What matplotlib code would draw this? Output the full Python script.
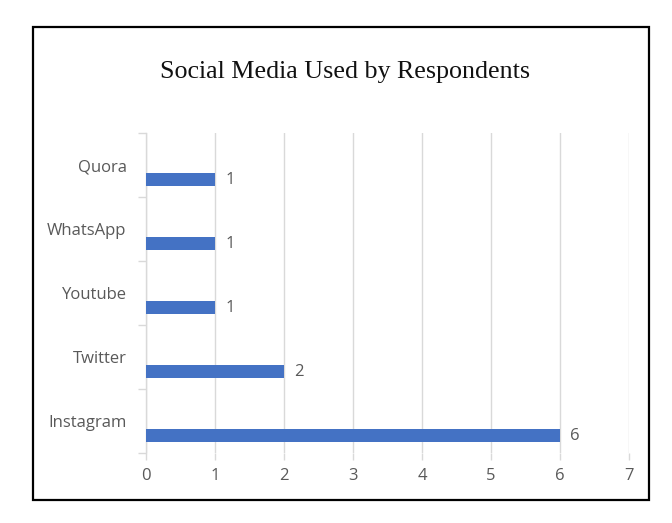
import matplotlib
matplotlib.use("Agg")
import matplotlib.pyplot as plt
from matplotlib.patches import Rectangle

categories = ["Instagram", "Twitter", "Youtube", "WhatsApp", "Quora"]
values = [6, 2, 1, 1, 1]
x_ticks = [0, 1, 2, 3, 4, 5, 6, 7]
title = "Social Media Used by Respondents"

W, H = 672, 523
fig = plt.figure(figsize=(W / 100, H / 100), dpi=100)
fig.patch.set_facecolor("white")

# outer border
fig.add_artist(Rectangle((33 / W, 1 - 500 / H), (649 - 33) / W, (500 - 27) / H,
                         transform=fig.transFigure, fill=False, edgecolor="black", lw=1.6))

left, right, top, bottom = 146, 629, 133, 453
ax = fig.add_axes([left / W, 1 - bottom / H, (right - left) / W, (bottom - top) / H])

grid_c = "#D9D9D9"
text_c = "#595959"
font = "Open Sans"
fs = 12

ypos = list(range(len(categories)))
ax.barh([y - 0.23 for y in ypos], values, height=0.2, color="#4472C4", zorder=3)
for y, v in zip(ypos, values):
    ax.text(v + 0.15, y - 0.23, str(v), va="center", ha="left", fontsize=fs,
            color=text_c, family=font)

ax.set_xlim(0, 7)
ax.set_ylim(-0.5, len(categories) - 0.5)
ax.set_xticks(x_ticks)
ax.set_xticklabels([str(t) for t in x_ticks], fontsize=fs, color=text_c, family=font)
ax.set_yticks(ypos)
ax.set_yticklabels(categories, fontsize=fs, color=text_c, family=font)
ax.set_yticks([y - 0.5 for y in ypos] + [len(categories) - 0.5], minor=True)

ax.tick_params(axis="y", which="major", length=0, pad=14)
ax.tick_params(axis="y", which="minor", length=6, color=grid_c, width=1)
ax.tick_params(axis="x", which="major", length=5, color=grid_c, width=1, pad=6)

ax.grid(axis="x", color=grid_c, lw=1, zorder=0)
for s in ["top", "right", "bottom"]:
    ax.spines[s].set_visible(False)
ax.spines["left"].set_color(grid_c)
ax.spines["left"].set_linewidth(1)

fig.text(345 / W, 1 - 72 / H, title, ha="center", va="center", fontsize=18.7,
         family="Liberation Serif", color="#111111")

fig.savefig("out.png", dpi=100, facecolor="white")
